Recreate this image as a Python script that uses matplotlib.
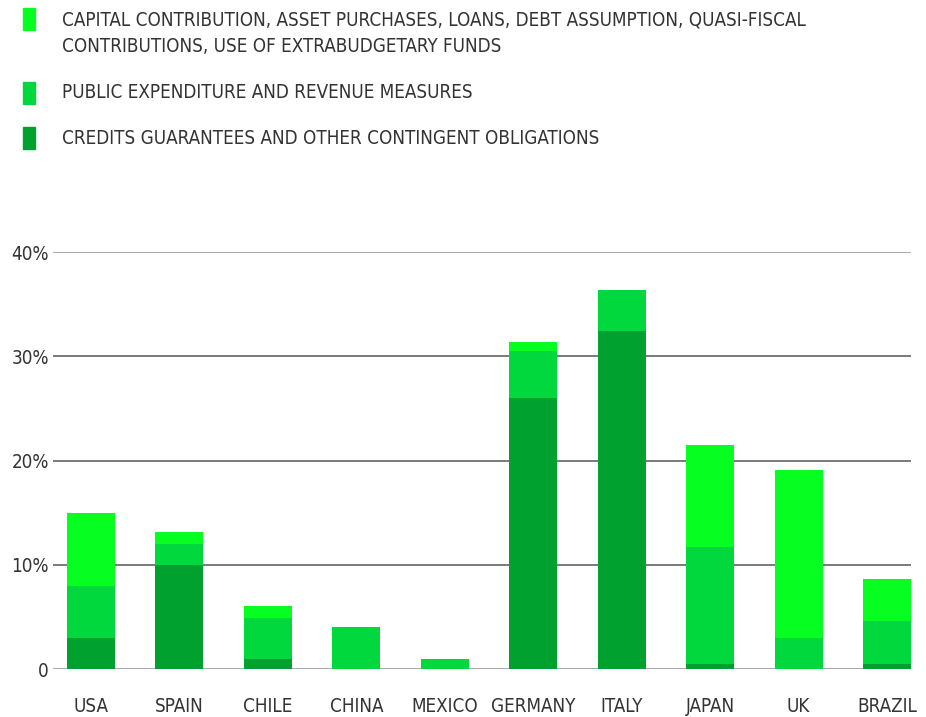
import matplotlib.pyplot as plt
from matplotlib.patches import Rectangle
import numpy as np

# Data (% of GDP)
countries = ["USA", "SPAIN", "CHILE", "CHINA", "MEXICO",
             "GERMANY", "ITALY", "JAPAN", "UK", "BRAZIL"]
credits = [3.0, 10.0, 1.0, 0.0, 0.0, 26.0, 32.4, 0.5, 0.0, 0.5]
public_exp = [5.0, 2.0, 3.9, 4.0, 1.0, 4.5, 4.0, 11.2, 3.0, 4.1]
capital = [7.0, 1.1, 1.1, 0.0, 0.0, 0.9, 0.0, 9.75, 16.1, 4.05]

labels = [
    "CAPITAL CONTRIBUTION, ASSET PURCHASES, LOANS, DEBT ASSUMPTION, QUASI-FISCAL\nCONTRIBUTIONS, USE OF EXTRABUDGETARY FUNDS",
    "PUBLIC EXPENDITURE AND REVENUE MEASURES",
    "CREDITS GUARANTEES AND OTHER CONTINGENT OBLIGATIONS",
]
yticks = [0, 10, 20, 30, 40]
ytick_labels = ["0", "10%", "20%", "30%", "40%"]

c_light = "#06FF20"
c_mid = "#00D83E"
c_dark = "#00A12F"
text_col = "#333333"

plt.rcParams["font.family"] = ["DejaVu Sans"]
plt.rcParams["font.stretch"] = "condensed"

fig = plt.figure(figsize=(9.26, 7.17), dpi=100)
ax = fig.add_axes([0.0572, 0.0669, 0.9266, 0.5816])

x = np.arange(len(countries))
credits = np.array(credits)
public_exp = np.array(public_exp)
capital = np.array(capital)
w = 0.543

ax.bar(x, credits, w, color=c_dark, zorder=3)
ax.bar(x, public_exp, w, bottom=credits, color=c_mid, zorder=3)
ax.bar(x, capital, w, bottom=credits + public_exp, color=c_light, zorder=3)

ax.set_ylim(0, 40)
ax.set_xlim(-0.43, 9.27)
ax.set_yticks(yticks)
ax.set_yticklabels(ytick_labels)
ax.set_xticks(x)
ax.set_xticklabels(countries)
ax.grid(axis="y", color="#7a7a7a", linewidth=1.4, zorder=0)
# outer lines (0 and 40%) are lighter in the original
gl = ax.get_ygridlines()
gl[0].set_color("#a8a8a8")
gl[-1].set_color("#a8a8a8")
ax.tick_params(axis="both", length=0, labelsize=13.5, colors=text_col)
ax.tick_params(axis="x", pad=20)
ax.tick_params(axis="y", pad=3)
for s in ax.spines.values():
    s.set_visible(False)

# legend drawn by hand at the top
W, H = 926, 717
leg = [(c_light, 8, 20), (c_mid, 82, 93), (c_dark, 127, 138)]
for (col, ytop, ytext), lab in zip(leg, labels):
    fig.patches.append(Rectangle((23 / W, 1 - (ytop + 22) / H), 12 / W, 22 / H,
                                 transform=fig.transFigure, color=col))
    if "\n" in lab:
        fig.text(62 / W, 1 - (ytext - 10) / H, lab, fontsize=13.5, color=text_col,
                 va="top", linespacing=1.5)
    else:
        fig.text(62 / W, 1 - ytext / H, lab, fontsize=13.5, color=text_col,
                 va="center")

fig.savefig("out.png", dpi=100)
